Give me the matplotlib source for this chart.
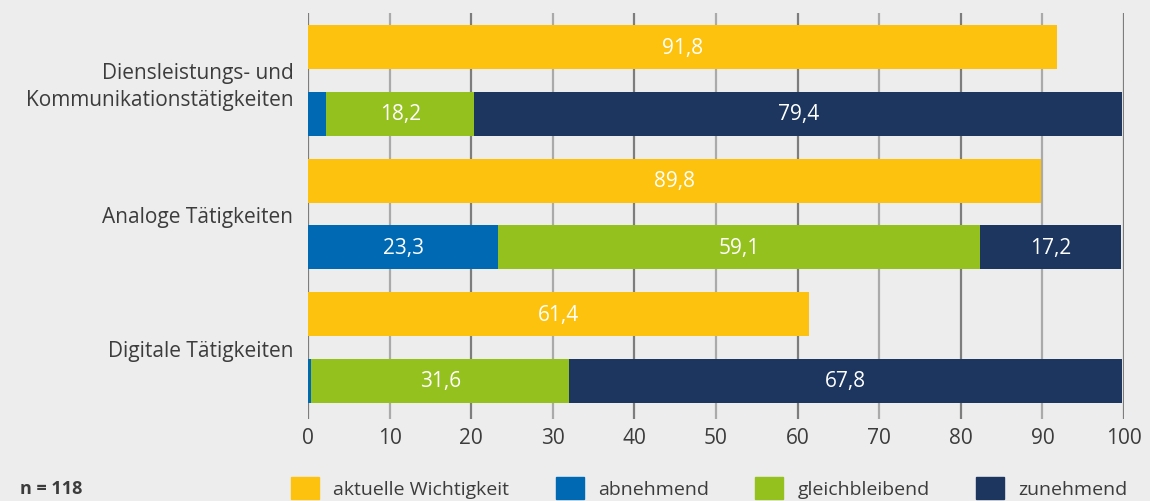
import numpy as np
import matplotlib.pyplot as plt
from matplotlib.patches import Patch

plt.rcParams['font.family'] = ['Open Sans', 'DejaVu Sans']

categories = ['Diensleistungs- und\nKommunikationstätigkeiten', 'Analoge Tätigkeiten', 'Digitale Tätigkeiten']
wichtigkeit = [91.8, 89.8, 61.4]
abnehmend = [2.2, 23.3, 0.4]
gleichbleibend = [18.2, 59.1, 31.6]
zunehmend = [79.4, 17.2, 67.8]
ticks = [0, 10, 20, 30, 40, 50, 60, 70, 80, 90, 100]

c_gelb = '#fdc20e'
c_blau = '#0069b4'
c_gruen = '#95c11f'
c_navy = '#1c365f'
bg = '#ededed'
txt = '#3c3c3c'

fig = plt.figure(figsize=(11.5, 5.02), dpi=100, facecolor=bg)
ax = fig.add_axes([308/1150, 1-420/502, (1124-308)/1150, (420-14)/502])
ax.set_facecolor(bg)

n = len(categories)
y_top = np.arange(n) * 2
y_bot = y_top + 1
h = 0.66

# gridlines: dark every 20, lighter in between
for t in ticks:
    ax.axvline(t, color='#7d7d7d' if t % 20 == 0 else '#aaaaaa', lw=1.6, zorder=0)

ax.barh(y_top, wichtigkeit, height=h, color=c_gelb, zorder=2)
ax.barh(y_bot, abnehmend, height=h, color=c_blau, zorder=2)
left = np.array(abnehmend)
ax.barh(y_bot, gleichbleibend, left=left, height=h, color=c_gruen, zorder=2)
left = left + np.array(gleichbleibend)
ax.barh(y_bot, zunehmend, left=left, height=h, color=c_navy, zorder=2)

fs = 15
def lab(x, y, v):
    ax.text(x, y, f'{v:.1f}'.replace('.', ','), ha='center', va='center',
            color='white', fontsize=fs, zorder=3)

for i in range(n):
    lab(wichtigkeit[i] / 2, y_top[i], wichtigkeit[i])
    a, g, z = abnehmend[i], gleichbleibend[i], zunehmend[i]
    if a > 5:
        lab(a / 2, y_bot[i], a)
    lab(a + g / 2, y_bot[i], g)
    lab(a + g + z / 2, y_bot[i], z)

ax.set_xlim(0, 100)
ax.set_ylim(5 + 38/66.8, -34/66.8)
ax.set_xticks(ticks)
ax.set_xticklabels([str(t) for t in ticks], fontsize=fs, color=txt)
ax.set_yticks(y_top + 0.5)
ax.set_yticklabels(categories, fontsize=fs, color=txt, ha='right', multialignment='right',
                   linespacing=1.35)
ax.tick_params(axis='both', length=0)
ax.tick_params(axis='x', pad=6)
ax.tick_params(axis='y', pad=10.5)
for s in ax.spines.values():
    s.set_visible(False)

handles = [Patch(color=c_gelb, label='aktuelle Wichtigkeit'),
           Patch(color=c_blau, label='abnehmend'),
           Patch(color=c_gruen, label='gleichbleibend'),
           Patch(color=c_navy, label='zunehmend')]
leg = fig.legend(handles=handles, ncol=4, loc='center left', bbox_to_anchor=(291/1150, 1-489/502),
                 frameon=False, fontsize=14, handlelength=1.44, handleheight=1.34,
                 handletextpad=0.72, columnspacing=2.4, borderpad=0, borderaxespad=0)
for t in leg.get_texts():
    t.set_color(txt)

fig.text(20/1150, 1-489/502, 'n = 118', fontsize=13, fontweight='bold', color=txt,
         ha='left', va='center')

fig.savefig('out.png', dpi=100, facecolor=bg)
